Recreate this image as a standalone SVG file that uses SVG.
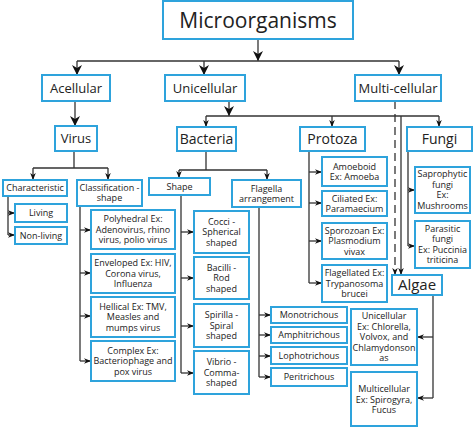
<svg xmlns="http://www.w3.org/2000/svg" width="474" height="428" viewBox="0 0 474 428">
<style>
.b{fill:#fff;stroke:#2ea3dc;stroke-width:2}
text{font-family:"Open Sans","Noto Sans","DejaVu Sans",sans-serif;fill:#222;text-anchor:middle}
.s{font-size:9px}
.m{font-size:13px}
.l{font-size:14px}
.c path{fill:none;stroke:#333;stroke-width:1.3}
.c .big{marker-end:url(#big)}
.c .sm{marker-end:url(#sm)}
.c .d{stroke-dasharray:8,5}
</style>
<defs>
<marker id="big" viewBox="0 0 10 10" refX="10" refY="5" markerWidth="10" markerHeight="10" markerUnits="userSpaceOnUse" orient="auto"><path d="M0,0 L10,5 L0,10 L3,5 z" fill="#111"/></marker>
<marker id="sm" viewBox="0 0 10 10" refX="10" refY="5" markerWidth="7" markerHeight="7" markerUnits="userSpaceOnUse" orient="auto"><path d="M0,1 L10,5 L0,9 L3,5 z" fill="#111"/></marker>
</defs>
<rect width="474" height="428" fill="#fff"/>
<g class="c" id="connectors">
<path class="big" d="M258,39 V61"/>
<path d="M77,61 H399"/>
<path class="big" d="M77,61 V75"/>
<path class="big" d="M204,61 V75"/>
<path class="big" d="M399,61 V75"/>
<path class="big" d="M75,101 V126"/>
<path class="big" d="M229,101 V116"/>
<path d="M206,116 H439"/>
<path class="sm" d="M206,116 V127"/>
<path class="sm" d="M332,116 V127"/>
<path class="sm" d="M439,116 V127"/>
<path class="sm" d="M401,116 V275"/>
<path class="sm d" d="M395,101 V275"/>
<path d="M74,151 V168 M33,168 H108"/>
<path class="sm" d="M33,168 V180"/>
<path class="sm" d="M108,168 V180"/>
<path d="M8,196 V235"/>
<path class="sm" d="M8,213 H15"/>
<path class="sm" d="M8,235 H15"/>
<path d="M80,206 V361"/>
<path class="sm" d="M80,230 H91"/>
<path class="sm" d="M80,273 H91"/>
<path class="sm" d="M80,316 H91"/>
<path class="sm" d="M80,361 H91"/>
<path d="M206,151 V170 M179,170 H267"/>
<path class="sm" d="M179,170 V178"/>
<path class="sm" d="M267,170 V180"/>
<path d="M181,195 V373"/>
<path class="sm" d="M181,232 H194"/>
<path class="sm" d="M181,278 H194"/>
<path class="sm" d="M181,326 H194"/>
<path class="sm" d="M181,373 H194"/>
<path d="M259,207 V377"/>
<path class="sm" d="M259,315 H271"/>
<path class="sm" d="M259,335 H271"/>
<path class="sm" d="M259,356 H271"/>
<path class="sm" d="M259,377 H271"/>
<path d="M309,151 V283"/>
<path class="sm" d="M309,172 H322"/>
<path class="sm" d="M309,203 H322"/>
<path class="sm" d="M309,241 H322"/>
<path class="sm" d="M309,283 H322"/>
<path d="M408,151 V246"/>
<path class="sm" d="M408,190 H415"/>
<path class="sm" d="M408,246 H415"/>
<path d="M433,295 V398"/>
<path class="sm" d="M433,337 H417"/>
<path class="sm" d="M433,398 H417"/>
</g>
<g id="microorganisms"><rect class="b" x="163" y="1" width="190" height="38"/><text x="258" y="27.5" style="font-size:21px">Microorganisms</text></g>
<g id="acellular"><rect class="b" x="42" y="75" width="68" height="26"/><text class="m" x="76" y="92.5">Acellular</text></g>
<g id="unicellular"><rect class="b" x="165" y="75" width="80" height="26"/><text class="m" x="205" y="92.5">Unicellular</text></g>
<g id="multicellular"><rect class="b" x="355" y="75" width="86" height="26"/><text class="m" x="398" y="92.5">Multi-cellular</text></g>
<g id="virus"><rect class="b" x="55" y="126" width="42" height="25"/><text class="m" x="76" y="143">Virus</text></g>
<g id="bacteria"><rect class="b" x="177" y="127" width="59" height="24"/><text class="l" x="206.5" y="144">Bacteria</text></g>
<g id="protoza"><rect class="b" x="300" y="127" width="65" height="24"/><text class="l" x="332.5" y="144">Protoza</text></g>
<g id="fungi"><rect class="b" x="407" y="127" width="65" height="24"/><text class="l" x="439.5" y="144">Fungi</text></g>
<g id="characteristic"><rect class="b" x="3" y="180" width="64" height="16"/><text class="s" x="35" y="191">Characteristic</text></g>
<g id="classification"><rect class="b" x="77" y="180" width="65" height="26"/><text class="s" x="109.5" y="191">Classification -</text><text class="s" x="109.5" y="201">shape</text></g>
<g id="living"><rect class="b" x="15" y="204" width="52" height="18"/><text class="s" x="41" y="216">Living</text></g>
<g id="nonliving"><rect class="b" x="15" y="227" width="52" height="17"/><text class="s" x="41" y="238.5">Non-living</text></g>
<g id="polyhedral"><rect class="b" x="91" y="210" width="84" height="39"/><text class="s" x="133" y="222">Polyhedral Ex:</text><text class="s" x="133" y="232.5">Adenovirus, rhino</text><text class="s" x="133" y="243">virus, polio virus</text></g>
<g id="enveloped"><rect class="b" x="91" y="254" width="84" height="39"/><text class="s" x="133" y="266">Enveloped Ex: HIV,</text><text class="s" x="133" y="276.5">Corona virus,</text><text class="s" x="133" y="287">Influenza</text></g>
<g id="hellical"><rect class="b" x="91" y="297" width="84" height="40"/><text class="s" x="133" y="309.5">Hellical Ex: TMV,</text><text class="s" x="133" y="320">Measles and</text><text class="s" x="133" y="330.5">mumps virus</text></g>
<g id="complex"><rect class="b" x="91" y="341" width="84" height="40"/><text class="s" x="133" y="353.5">Complex Ex:</text><text class="s" x="133" y="364">Bacteriophage and</text><text class="s" x="133" y="374.5">pox virus</text></g>
<g id="shape"><rect class="b" x="149" y="178" width="61" height="17"/><text class="s" x="179.5" y="189.5">Shape</text></g>
<g id="flagella"><rect class="b" x="232" y="180" width="69" height="27"/><text class="s" x="266.5" y="191.5">Flagella</text><text class="s" x="266.5" y="201.5">arrangement</text></g>
<g id="cocci"><rect class="b" x="194" y="211" width="55" height="42"/><text class="s" x="221.5" y="224.5">Cocci -</text><text class="s" x="221.5" y="235">Spherical</text><text class="s" x="221.5" y="245.5">shaped</text></g>
<g id="bacilli"><rect class="b" x="194" y="257" width="55" height="42"/><text class="s" x="221.5" y="270.5">Bacilli -</text><text class="s" x="221.5" y="281">Rod</text><text class="s" x="221.5" y="291.5">shaped</text></g>
<g id="spirilla"><rect class="b" x="194" y="304" width="55" height="43"/><text class="s" x="221.5" y="318">Spirilla -</text><text class="s" x="221.5" y="328.5">Spiral</text><text class="s" x="221.5" y="339">shaped</text></g>
<g id="vibrio"><rect class="b" x="194" y="351" width="55" height="43"/><text class="s" x="221.5" y="365">Vibrio -</text><text class="s" x="221.5" y="375.5">Comma-</text><text class="s" x="221.5" y="386">shaped</text></g>
<g id="monotrichous"><rect class="b" x="271" y="307" width="76" height="16"/><text class="s" x="309" y="318">Monotrichous</text></g>
<g id="amphitrichous"><rect class="b" x="271" y="327" width="76" height="16"/><text class="s" x="309" y="338">Amphitrichous</text></g>
<g id="lophotrichous"><rect class="b" x="271" y="347" width="76" height="17"/><text class="s" x="309" y="358.5">Lophotrichous</text></g>
<g id="peritrichous"><rect class="b" x="271" y="368" width="76" height="18"/><text class="s" x="309" y="380">Peritrichous</text></g>
<g id="amoeboid"><rect class="b" x="322" y="157" width="65" height="29"/><text class="s" x="354.5" y="169.6">Amoeboid</text><text class="s" x="354.5" y="179.6">Ex: Amoeba</text></g>
<g id="ciliated"><rect class="b" x="322" y="191" width="65" height="25"/><text class="s" x="354.5" y="201.6">Ciliated Ex:</text><text class="s" x="354.5" y="211.6">Paramaecium</text></g>
<g id="sporozoan"><rect class="b" x="322" y="223" width="65" height="36"/><text class="s" x="354.5" y="233.6">Sporozoan Ex:</text><text class="s" x="354.5" y="244.1">Plasmodium</text><text class="s" x="354.5" y="254.6">vivax</text></g>
<g id="flagellated"><rect class="b" x="322" y="265" width="65" height="37"/><text class="s" x="354.5" y="276">Flagellated Ex:</text><text class="s" x="354.5" y="286.5">Trypanosoma</text><text class="s" x="354.5" y="297">brucei</text></g>
<g id="saprophytic"><rect class="b" x="415" y="167" width="55" height="46"/><text class="s" x="442.5" y="177.4">Saprophytic</text><text class="s" x="442.5" y="187.9">fungi</text><text class="s" x="442.5" y="198.4">Ex:</text><text class="s" x="442.5" y="208.9">Mushrooms</text></g>
<g id="parasitic"><rect class="b" x="415" y="221" width="55" height="47"/><text class="s" x="442.5" y="231.9">Parasitic</text><text class="s" x="442.5" y="242.4">fungi</text><text class="s" x="442.5" y="252.9">Ex: Puccinia</text><text class="s" x="442.5" y="263.4">triticina</text></g>
<g id="algae"><rect class="b" x="392" y="275" width="50" height="20"/><text x="417" y="290" style="font-size:15px">Algae</text></g>
<g id="algae-unicellular"><rect class="b" x="351" y="309" width="66" height="56"/><text class="s" x="384" y="319.2">Unicellular</text><text class="s" x="384" y="329.7">Ex: Chlorella,</text><text class="s" x="384" y="340.2">Volvox, and</text><text class="s" x="384" y="350.7">Chlamydonson</text><text class="s" x="384" y="361.2">as</text></g>
<g id="algae-multicellular"><rect class="b" x="351" y="372" width="66" height="54"/><text class="s" x="384" y="392">Multicellular</text><text class="s" x="384" y="402.5">Ex: Spirogyra,</text><text class="s" x="384" y="413">Fucus</text></g>
</svg>
